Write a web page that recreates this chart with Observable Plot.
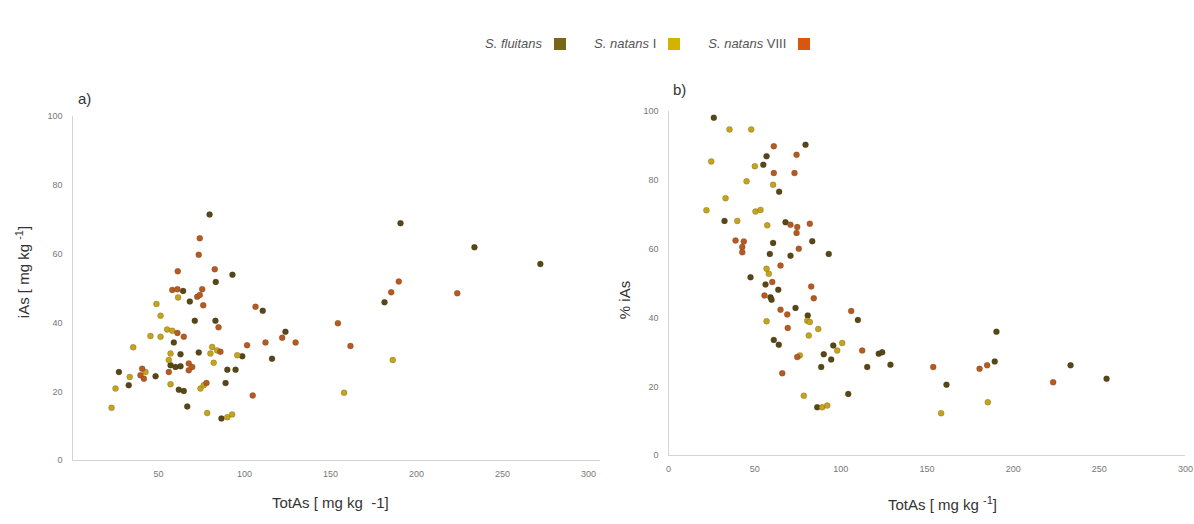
<!DOCTYPE html>
<html>
<head>
<meta charset="utf-8">
<script src="https://cdn.jsdelivr.net/npm/d3@7"></script>
<script src="https://cdn.jsdelivr.net/npm/@observablehq/plot@0.6"></script>
<style>
  html, body { margin: 0; padding: 0; background: #fff; }
  #root { position: relative; width: 1194px; height: 524px; overflow: hidden; font-family: "Liberation Sans", Arial, sans-serif; }
  .abs { position: absolute; }
  #legend { position: absolute; left: 485px; top: 36px; display: flex; align-items: center; font-size: 13px; color: #555; }
  #legend .item { display: flex; align-items: center; margin-right: 28px; }
  #legend .sw { width: 12px; height: 12px; margin-left: 12px; }
  .axtitle { position: absolute; font-family: "Liberation Sans Narrow", "Liberation Sans", Arial, sans-serif; font-size: 15px; color: #333; white-space: nowrap; }
  .panel { position: absolute; font-family: "Liberation Sans", Arial, sans-serif; font-size: 15px; color: #333; }
</style>
</head>
<body>
<div id="root">
  <div id="legend"></div>
  <div id="plotA" class="abs" style="left:0px; top:70px;"></div>
  <div id="plotB" class="abs" style="left:600px; top:70px;"></div>
  <div class="panel" style="left:78px; top:90px;">a)</div>
  <div class="panel" style="left:673px; top:81px;">b)</div>
  <div class="axtitle" style="left:22px; top:272px; transform: translate(-50%,-50%) rotate(-90deg);">iAs [ mg kg <sup style="font-size:11px">-1</sup>]</div>
  <div class="axtitle" style="left:624px; top:300px; transform: translate(-50%,-50%) rotate(-90deg);">% iAs</div>
  <div class="axtitle" style="left:272px; top:494px;">TotAs [ mg kg &nbsp;-1]</div>
  <div class="axtitle" style="left:888px; top:494px;">TotAs [ mg kg <sup style="font-size:11px">-1</sup>]</div>
</div>
<script>
// ---- series ----
const seriesNames = ["S. fluitans", "S. natans I", "S. natans VIII"];
const legendColors = ["#7a6514", "#d6b200", "#d9560f"];
const dotColors = ["#564618", "#c4a41c", "#b65a22"];

// ---- panel a: TotAs vs iAs ----
const aFluitans = [[79.7,71.5],[93,54],[83.3,51.9],[64.3,49.3],[68.2,46.2],[110.6,43.5],[71.1,40.6],[83.1,40.6],[58.9,34.3],[116,29.6],[62.8,30.9],[73.4,31.4],[98.7,30.3],[57,27.7],[59.9,27.2],[62.8,27.4],[27,25.7],[48.3,24.5],[90,26.4],[94.8,26.4],[32.7,21.9],[61.8,20.6],[64.7,20.2],[89,22.5],[66.7,15.7],[86.6,12.2],[123.8,37.4],[181.4,46],[190.7,69],[233.7,62],[272,57.1]];
const aNatansI = [[61.4,47.4],[48.8,45.5],[51.2,42.1],[55,38.1],[58,37.7],[45.3,36.2],[51.2,36],[35.3,32.9],[57,31.1],[56,29.2],[81.2,33],[84.1,32],[80.2,31.1],[95.8,30.6],[82.1,28.4],[42.4,25.7],[33.3,24.3],[25,20.9],[57,22.2],[74.4,20.9],[76.3,21.9],[22.7,15.3],[78.3,13.8],[90,12.6],[92.8,13.4],[157.9,19.7],[186.2,29.2]];
const aNatansVIII = [[74,64.6],[73.4,59.8],[61.2,55],[82.7,55.6],[58,49.6],[61,49.8],[75.4,49.8],[72.5,47.6],[74,48.1],[76,45.1],[106.4,44.7],[84.9,38.7],[61,37.1],[64.7,36],[101.5,33.5],[112.2,34.3],[86,31.6],[67.6,28.2],[69.6,27.2],[67.6,26.2],[56,25.7],[40.5,26.7],[39.5,24.8],[41.5,23.8],[77.9,22.5],[104.8,18.9],[154.3,39.9],[121.9,35.7],[129.7,34.3],[161.6,33.3],[189.7,52],[185.3,48.9],[223.7,48.6]];

// ---- panel b: TotAs vs % iAs ----
const bFluitans = [[26.3,98.2],[79.5,90.3],[56.9,87],[55,84.5],[64.2,76.7],[32.5,68.2],[67.9,67.8],[60.7,61.8],[83.4,62.3],[58.8,58.6],[70.8,58.1],[93,58.6],[47.6,51.8],[56.3,49.7],[63.7,48.2],[59.2,46],[59.8,45.3],[73.7,42.9],[80.8,40.7],[61.1,33.6],[64,32.2],[109.9,39.4],[95.6,32],[90.1,29.4],[94.4,27.9],[88.6,25.7],[104.3,17.9],[86.3,14],[115.3,25.7],[122,29.6],[124,30],[128.8,26.4],[189.3,27.3],[190.3,36],[233.3,26.2],[254.2,22.3],[161.3,20.6]];
const bNatansI = [[35.4,94.8],[48,94.8],[24.8,85.5],[50.1,84.1],[45.3,79.7],[60.7,78.7],[33.1,74.8],[22,71.3],[50.5,70.9],[53.4,71.4],[39.9,68.2],[57.3,66.9],[56.9,54.3],[58.2,52.8],[80.5,39.2],[82,38.8],[56.9,39],[86.9,36.8],[81.4,34.9],[100.8,32.7],[97.9,30.5],[76.2,29.1],[78.5,17.4],[89.2,14],[92.1,14.5],[158.2,12.3],[185.3,15.5]];
const bNatansVIII = [[61.1,89.9],[74.3,87.4],[61.1,82.1],[73.1,82.1],[70.8,67.1],[74.7,66.4],[74.3,64.7],[82,67.4],[38.9,62.5],[43.7,62.2],[42.8,60.6],[42.8,59.1],[75.6,60.1],[65,55.2],[60.2,50.4],[55.7,46.5],[82.8,49.1],[84.3,45.7],[65,42.4],[68.9,41],[69.2,37.1],[106,42],[74.7,28.6],[66,23.9],[112.4,30.5],[153.6,25.7],[180.5,25.2],[184.9,26.2],[223.2,21.3]];

const yTicks = [0, 20, 40, 60, 80, 100];
const xTicksA = [50, 100, 150, 200, 250, 300];
const xTicksB = [0, 50, 100, 150, 200, 250, 300];

function rows(groups) {
  const out = [];
  groups.forEach((g, i) => g.forEach(([x, y]) => out.push({x, y, s: seriesNames[i]})));
  return out;
}

// legend
const lg = document.getElementById("legend");
seriesNames.forEach((name, i) => {
  const it = document.createElement("div");
  it.className = "item";
  const parts = name.split(" ");
  const label = document.createElement("span");
  label.innerHTML = `<i>${parts[0]} ${parts[1]}</i>` + (parts[2] ? " " + parts[2] : "");
  const sw = document.createElement("span");
  sw.className = "sw";
  sw.style.background = legendColors[i];
  it.appendChild(label); it.appendChild(sw);
  lg.appendChild(it);
});

function makePlot(data, opts) {
  return Plot.plot({
    width: opts.width, height: 440,
    marginLeft: opts.ml, marginRight: opts.mr, marginTop: opts.mt, marginBottom: opts.mb,
    style: {fontSize: "9px", color: "#777", fontFamily: "Liberation Sans, Arial, sans-serif", background: "transparent"},
    x: {domain: [0, 300], ticks: opts.xticks, tickSize: 0, tickPadding: 10, label: null},
    y: {domain: [0, 100], ticks: yTicks, tickSize: 0, tickPadding: 10, label: null},
    color: {domain: seriesNames, range: dotColors},
    marks: [
      Plot.ruleX([0], {stroke: "#d4d4d4", strokeWidth: 1}),
      Plot.ruleY([0], {stroke: "#d4d4d4", strokeWidth: 1, x1: 0, x2: opts.xend}),
      Plot.dot(data, {x: "x", y: "y", fill: "s", r: 3, stroke: "#3a2c10", strokeOpacity: 0.25, strokeWidth: 0.8})
    ]
  });
}

document.getElementById("plotA").appendChild(
  makePlot(rows([aFluitans, aNatansI, aNatansVIII]), {width: 610, ml: 72, mr: 22, mt: 46, mb: 50, xticks: xTicksA, xend: 307}));
document.getElementById("plotB").appendChild(
  makePlot(rows([bFluitans, bNatansI, bNatansVIII]), {width: 594, ml: 68, mr: 9, mt: 41, mb: 55, xticks: xTicksB, xend: 300}));
</script>
</body>
</html>
